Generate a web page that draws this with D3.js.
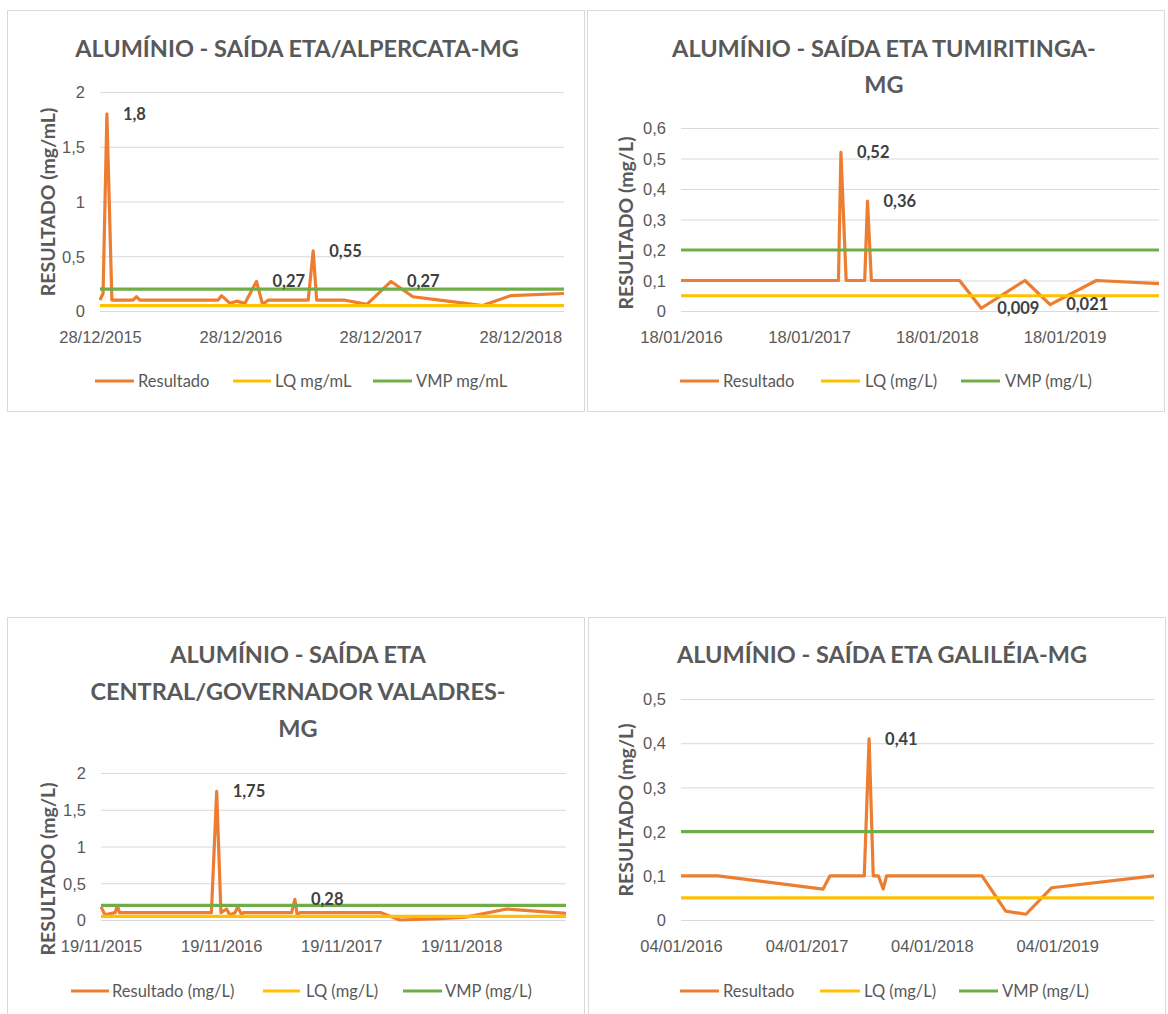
<!DOCTYPE html>
<html><head><meta charset="utf-8">
<script src="https://cdn.jsdelivr.net/npm/d3@7"></script>
<style>
html,body{margin:0;padding:0;background:#fff;}
svg{display:block;font-family:Lato,"Open Sans",sans-serif;}
</style></head>
<body>
<svg id="chart" width="1168" height="1014"></svg>
<script>
// ---------- DATA ----------
const legendNames1 = ["Resultado", "LQ mg/mL", "VMP mg/mL"];
const legendNames2 = ["Resultado", "LQ (mg/L)", "VMP (mg/L)"];
const legendNames3 = ["Resultado (mg/L)", "LQ (mg/L)", "VMP (mg/L)"];
const legendNames4 = ["Resultado", "LQ (mg/L)", "VMP (mg/L)"];

const titles = [
  ["ALUMÍNIO - SAÍDA ETA/ALPERCATA-MG"],
  ["ALUMÍNIO - SAÍDA ETA TUMIRITINGA-", "MG"],
  ["ALUMÍNIO - SAÍDA ETA", "CENTRAL/GOVERNADOR VALADRES-", "MG"],
  ["ALUMÍNIO - SAÍDA ETA GALILÉIA-MG"]
];
const yTitles = ["RESULTADO (mg/mL)", "RESULTADO (mg/L)", "RESULTADO (mg/L)", "RESULTADO (mg/L)"];

// Alpercata
const alpercataDates = ["2015-12-28","2016-01-05","2016-01-15","2016-01-28","2016-03-23","2016-04-01","2016-04-10",
  "2016-10-31","2016-11-09","2016-12-01","2016-12-18","2017-01-09","2017-02-08","2017-02-24","2017-03-11",
  "2017-06-23","2017-07-06","2017-07-15","2017-09-24","2017-11-23","2018-01-25","2018-03-23","2018-06-22",
  "2018-09-21","2018-12-03","2019-04-21"];
const alpercataValues = [0.10,0.16,1.8,0.10,0.10,0.13,0.10,
  0.10,0.14,0.07,0.09,0.07,0.27,0.06,0.10,
  0.10,0.55,0.10,0.10,0.06,0.27,0.13,0.09,
  0.05,0.14,0.16];
const alpercataLabels = [2, 12, 16, 20];

// Tumiritinga
const tumiritingaDates = ["2016-01-18","2017-04-12","2017-04-19","2017-05-04","2017-06-26","2017-07-04","2017-07-15",
  "2018-03-24","2018-05-25","2018-09-27","2018-12-08","2019-04-19","2019-10-15"];
const tumiritingaValues = [0.10,0.10,0.52,0.10,0.10,0.36,0.10,0.10,0.009,0.10,0.021,0.10,0.09];
const tumiritingaLabels = [2, 5, 8, 10];

// Central / Governador Valadares
const centralDates = ["2015-11-19","2015-12-01","2016-01-01","2016-01-08","2016-01-14","2016-10-20","2016-11-05",
  "2016-11-18","2016-12-05","2016-12-15","2016-12-31","2017-01-08","2017-01-20","2017-01-25","2017-06-21",
  "2017-07-01","2017-07-08","2017-07-16","2018-03-20","2018-05-16","2018-09-15","2018-12-03","2019-04-07","2019-10-04"];
const centralValues = [0.18,0.07,0.10,0.20,0.10,0.10,1.75,
  0.10,0.15,0.07,0.10,0.18,0.07,0.10,0.10,
  0.28,0.07,0.10,0.10,0.00,0.02,0.04,0.15,0.09];
const centralLabels = [6, 15];

// Galiléia
const galileiaDates = ["2016-01-04","2016-04-21","2017-02-21","2017-03-13","2017-06-21","2017-07-05","2017-07-17",
  "2017-08-01","2017-08-15","2017-08-25","2018-05-30","2018-08-07","2018-10-05","2018-12-19","2019-10-13"];
const galileiaValues = [0.10,0.10,0.07,0.10,0.10,0.41,0.10,0.10,0.07,0.10,0.10,0.02,0.013,0.073,0.10];
const galileiaLabels = [5];

const lqValues = [0.05, 0.05, 0.05, 0.05];
const vmpValues = [0.2, 0.2, 0.2, 0.2];

const yTicks = [[0,0.5,1,1.5,2],[0,0.1,0.2,0.3,0.4,0.5,0.6],[0,0.5,1,1.5,2],[0,0.1,0.2,0.3,0.4,0.5]];
const xTickDates = [
  ["2015-12-28","2016-12-28","2017-12-28","2018-12-28"],
  ["2016-01-18","2017-01-18","2018-01-18","2019-01-18"],
  ["2015-11-19","2016-11-19","2017-11-19","2018-11-19"],
  ["2016-01-04","2017-01-04","2018-01-04","2019-01-04"]
];

// ---------- LAYOUT ----------
const colors = {res:"#ED7D31", lq:"#FFC000", vmp:"#70AD47", grid:"#D9D9D9", text:"#595959", label:"#404040"};
const layouts = [
  {box:[7.5,10.5,577,401], plot:{l:100,r:564,t:92,b:311}, titleX:297, titleY:[57], yTitle:[48,202], tickY:343, legY:381, leg:[[95,134,138],[233,271,275],[373,412,416]]},
  {box:[587.5,10.5,577,401], plot:{l:681,r:1159,t:128,b:311}, titleX:884, titleY:[57,93], yTitle:[626,223], tickY:343, legY:381, leg:[[680,719,723],[821,860,865],[961,1000,1005]]},
  {box:[7.5,617.5,577,420], plot:{l:101,r:566,t:773,b:920}, titleX:298, titleY:[663,700,737], yTitle:[48,869], tickY:952, legY:991, leg:[[71,109,112],[263,300,306],[403,442,445]]},
  {box:[588.5,617.5,577,420], plot:{l:681,r:1154,t:699,b:920}, titleX:882, titleY:[663], yTitle:[626,810], tickY:952, legY:991, leg:[[680,719,723],[820,860,864],[959,998,1002]]}
];

const charts = [
  {dates:alpercataDates, values:alpercataValues, labels:alpercataLabels, legend:legendNames1},
  {dates:tumiritingaDates, values:tumiritingaValues, labels:tumiritingaLabels, legend:legendNames2},
  {dates:centralDates, values:centralValues, labels:centralLabels, legend:legendNames3},
  {dates:galileiaDates, values:galileiaValues, labels:galileiaLabels, legend:legendNames4}
];

const parse = d3.utcParse("%Y-%m-%d");
const fmtDate = d3.utcFormat("%d/%m/%Y");
const fmtNum = v => String(v).replace(".", ",");
const svg = d3.select("#chart");

charts.forEach((c, i) => {
  const L = layouts[i];
  const g = svg.append("g");
  g.append("rect").attr("x",L.box[0]).attr("y",L.box[1]).attr("width",L.box[2]).attr("height",L.box[3])
    .attr("fill","#fff").attr("stroke","#D9D9D9").attr("stroke-width",1);

  const pts = c.dates.map((d,k) => ({date:parse(d), v:c.values[k]}));
  const x = d3.scaleUtc().domain(d3.extent(pts, p => p.date)).range([L.plot.l, L.plot.r]);
  const yt = yTicks[i];
  const y = d3.scaleLinear().domain([0, yt[yt.length-1]]).range([L.plot.b, L.plot.t]);

  // gridlines + y labels
  const yAxis = d3.axisLeft(y).tickValues(yt).tickSize(-(L.plot.r - L.plot.l)).tickPadding(15).tickFormat(fmtNum);
  const ya = g.append("g").attr("transform",`translate(${L.plot.l},0)`).call(yAxis);
  ya.select(".domain").remove();
  ya.selectAll(".tick line").attr("stroke",colors.grid).attr("stroke-width",1);
  ya.selectAll(".tick text").attr("fill",colors.text).style("font-size","16.5px").attr("dy","0.35em");

  // x axis labels
  const xAxis = d3.axisBottom(x).tickValues(xTickDates[i].map(parse)).tickSize(0).tickPadding(0).tickFormat(fmtDate);
  const xa = g.append("g").attr("transform",`translate(0,${L.tickY})`).call(xAxis);
  xa.select(".domain").remove();
  xa.selectAll(".tick text").attr("fill",colors.text).style("font-size","16.5px").attr("dy","0");

  // titles
  titles[i].forEach((t, k) => {
    g.append("text").attr("x",L.titleX).attr("y",L.titleY[k]).attr("text-anchor","middle")
      .attr("fill",colors.text).style("font-size","23.5px").style("font-weight","700").text(t);
  });
  g.append("text").attr("transform",`translate(${L.yTitle[0]},${L.yTitle[1]}) rotate(-90)`)
    .attr("text-anchor","middle").attr("dy","0.35em").attr("fill",colors.text)
    .style("font-size","19.5px").style("font-weight","700").text(yTitles[i]);

  // series
  const line = d3.line().x(p => x(p.date)).y(p => y(p.v));
  const dom = x.domain();
  g.append("path").datum(pts).attr("d",line).attr("fill","none").attr("stroke",colors.res)
    .attr("stroke-width",3.2).attr("stroke-linejoin","round");
  g.append("path").datum([{date:dom[0],v:lqValues[i]},{date:dom[1],v:lqValues[i]}]).attr("d",line)
    .attr("fill","none").attr("stroke",colors.lq).attr("stroke-width",3.2);
  g.append("path").datum([{date:dom[0],v:vmpValues[i]},{date:dom[1],v:vmpValues[i]}]).attr("d",line)
    .attr("fill","none").attr("stroke",colors.vmp).attr("stroke-width",3.2);

  // data labels
  c.labels.forEach(k => {
    const p = pts[k];
    g.append("text").attr("x",x(p.date)+16).attr("y",y(p.v)).attr("dy","0.35em")
      .attr("fill",colors.label).style("font-size","16.5px").style("font-weight","700").text(fmtNum(p.v));
  });

  // legend
  const legColors = [colors.res, colors.lq, colors.vmp];
  L.leg.forEach((lg, k) => {
    g.append("line").attr("x1",lg[0]).attr("x2",lg[1]).attr("y1",L.legY).attr("y2",L.legY)
      .attr("stroke",legColors[k]).attr("stroke-width",3.2);
    g.append("text").attr("x",lg[2]).attr("y",L.legY).attr("dy","0.35em").attr("fill",colors.text)
      .style("font-size","16.5px").text(c.legend[k]);
  });
});
</script>
</body></html>
